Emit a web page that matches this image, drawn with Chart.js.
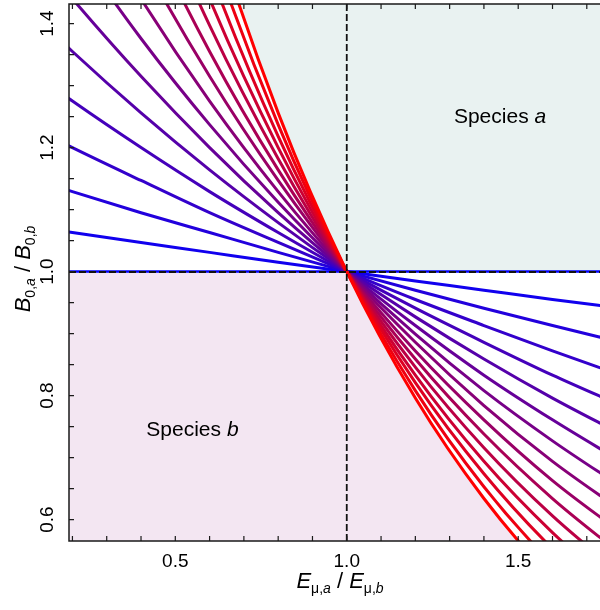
<!DOCTYPE html>
<html><head><meta charset="utf-8">
<script src="https://cdn.jsdelivr.net/npm/chart.js@4.4.0/dist/chart.umd.min.js"></script>
<style>html,body{margin:0;padding:0;background:#fff;}canvas{display:block;}</style>
</head><body>
<canvas id="c" width="600" height="610"></canvas>
<script>
// ---- data ----
const xValues = [0.1, 0.2, 0.4, 0.6, 0.8, 1.0, 1.2, 1.4, 1.6, 1.8];
const line00 = [1, 1, 1, 1, 1, 1, 1, 1, 1, 1];
const line01 = [1.071, 1.063, 1.047, 1.031, 1.015, 1, 0.985, 0.970, 0.955, 0.941];
const line02 = [1.147, 1.129, 1.095, 1.063, 1.031, 1, 0.970, 0.941, 0.913, 0.886];
const line03 = [1.228, 1.200, 1.147, 1.095, 1.047, 1, 0.955, 0.913, 0.872, 0.833];
const line04 = [1.315, 1.275, 1.200, 1.129, 1.063, 1, 0.941, 0.886, 0.833, 0.784];
const line05 = [1.408, 1.355, 1.256, 1.164, 1.079, 1, 0.927, 0.859, 0.796, 0.738];
const line06 = [1.507, 1.440, 1.315, 1.200, 1.095, 1, 0.913, 0.833, 0.761, 0.694];
const line07 = [1.614, 1.531, 1.376, 1.237, 1.112, 1, 0.899, 0.808, 0.727, 0.653];
const line08 = [1.728, 1.626, 1.440, 1.275, 1.129, 1, 0.886, 0.784, 0.694, 0.615];
const line09 = [1.851, 1.728, 1.507, 1.315, 1.147, 1, 0.872, 0.761, 0.663, 0.579];
const line10 = [1.982, 1.837, 1.578, 1.355, 1.164, 1, 0.859, 0.738, 0.634, 0.544];
const line11 = [2.122, 1.952, 1.651, 1.397, 1.182, 1, 0.846, 0.716, 0.606, 0.512];
const line12 = [2.272, 2.074, 1.728, 1.440, 1.200, 1, 0.833, 0.694, 0.579, 0.482];
const line13 = [2.433, 2.204, 1.809, 1.485, 1.218, 1, 0.821, 0.674, 0.553, 0.454];
const line14 = [2.605, 2.342, 1.893, 1.531, 1.237, 1, 0.808, 0.653, 0.528, 0.427];
const line15 = [2.790, 2.489, 1.982, 1.578, 1.256, 1, 0.796, 0.634, 0.505, 0.402];

const xTicks = [0.2,0.3,0.4,0.5,0.6,0.7,0.8,0.9,1.0,1.1,1.2,1.3,1.4,1.5,1.6,1.7];
const xTickLabels = ['0.5','1.0','1.5'];
const yTicks = [0.6,0.65,0.7,0.75,0.8,0.85,0.9,0.95,1.0,1.05,1.1,1.15,1.2,1.25,1.3,1.35,1.4];
const yTickLabels = ['0.6','0.8','1.0','1.2','1.4'];
const speciesNames = ['a','b'];
const thresholdX = 1.0;
const thresholdY = 1.0;

// ---- styling / layout ----
const FONT = '"Liberation Sans", Arial, Helvetica, sans-serif';
const colA = '#e9f2f1';
const colB = '#f3e6f2';
const lineSets = [line00,line01,line02,line03,line04,line05,line06,line07,line08,line09,line10,line11,line12,line13,line14,line15];
function lineColor(n){ const t = n/(lineSets.length-1); return `rgb(${Math.round(255*t)},0,${Math.round(255*(1-t))})`; }
const pts = arr => xValues.map((xv,i)=>({x:xv, y:arr[i]}));
const redBoundary = lineSets[lineSets.length-1];

const datasets = [];
datasets.push({data: pts(redBoundary), fill:'end', backgroundColor: colA, borderWidth:0, pointRadius:0, order:100, cubicInterpolationMode:'monotone'});
datasets.push({data: pts(redBoundary), fill:'start', backgroundColor: colB, borderWidth:0, pointRadius:0, order:100, cubicInterpolationMode:'monotone'});
datasets.push({data: pts(redBoundary), fill:{value: thresholdY}, backgroundColor:'#ffffff', borderWidth:0, pointRadius:0, order:99, cubicInterpolationMode:'monotone'});
lineSets.forEach((arr,n)=>datasets.push({data: pts(arr), borderColor: lineColor(n), borderWidth: n===0 ? 2.5 : 3, pointRadius:0, fill:false, order:50-n, clip:0, cubicInterpolationMode:'monotone', borderCapStyle:'butt'}));

function drawRich(ctx, parts, cx, by){
  let total = 0;
  parts.forEach(p=>{ ctx.font = `${p.i?'italic ':''}${p.s}px ${FONT}`; p.w = ctx.measureText(p.t).width; total += p.w; });
  let x = cx - total/2;
  parts.forEach(p=>{ ctx.font = `${p.i?'italic ':''}${p.s}px ${FONT}`; ctx.fillText(p.t, x, by + (p.dy||0)); x += p.w; });
}

const decor = {
  id:'decor',
  afterDatasetsDraw(chart){
    const {ctx, chartArea:a, scales:{x, y}} = chart;
    ctx.save();
    // threshold dashed lines
    ctx.save();
    ctx.beginPath(); ctx.rect(a.left, a.top, a.right-a.left, a.bottom-a.top); ctx.clip();
    ctx.strokeStyle = '#111111'; ctx.lineWidth = 1.8; ctx.setLineDash([7,3]);
    const tx = x.getPixelForValue(thresholdX), ty = y.getPixelForValue(thresholdY);
    ctx.beginPath(); ctx.moveTo(tx, a.top); ctx.lineTo(tx, a.bottom); ctx.stroke();
    ctx.lineWidth = 2;
    ctx.beginPath(); ctx.moveTo(a.left, ty + 0.5); ctx.lineTo(a.right, ty + 0.5); ctx.stroke();
    ctx.restore();
    // frame
    ctx.strokeStyle = '#1a1a1a'; ctx.lineWidth = 1.5;
    ctx.beginPath();
    ctx.moveTo(a.right+2, a.top); ctx.lineTo(a.left, a.top); ctx.lineTo(a.left, a.bottom); ctx.lineTo(a.right+2, a.bottom);
    ctx.stroke();
    // inward ticks
    ctx.lineWidth = 1.2;
    ctx.beginPath();
    xTicks.forEach(v=>{ const px = x.getPixelForValue(v); ctx.moveTo(px,a.bottom); ctx.lineTo(px,a.bottom-5); ctx.moveTo(px,a.top); ctx.lineTo(px,a.top+5); });
    yTicks.forEach(v=>{ const py = y.getPixelForValue(v); ctx.moveTo(a.left,py); ctx.lineTo(a.left+5,py); });
    ctx.stroke();
    // tick labels
    ctx.fillStyle = '#000';
    ctx.font = `19px ${FONT}`; ctx.textAlign = 'center'; ctx.textBaseline = 'alphabetic';
    xTickLabels.forEach(l=>{ ctx.fillText(l, x.getPixelForValue(parseFloat(l)), a.bottom + 26); });
    yTickLabels.forEach(l=>{
      ctx.save(); ctx.translate(a.left - 16, y.getPixelForValue(parseFloat(l))); ctx.rotate(-Math.PI/2);
      ctx.fillText(l, 0, 0); ctx.restore();
    });
    ctx.textAlign = 'left';
    // axis titles
    drawRich(ctx, [{t:'E',i:1,s:22},{t:'\u03bc,',s:14,dy:5},{t:'a',i:1,s:14,dy:5},{t:' / ',s:22},{t:'E',i:1,s:22},{t:'\u03bc,',s:14,dy:5},{t:'b',i:1,s:14,dy:5}], 340, a.bottom + 47);
    ctx.save(); ctx.translate(30, 269); ctx.rotate(-Math.PI/2);
    drawRich(ctx, [{t:'B',i:1,s:22},{t:'0,',s:14,dy:5},{t:'a',i:1,s:14,dy:5},{t:' / ',s:22},{t:'B',i:1,s:22},{t:'0,',s:14,dy:5},{t:'b',i:1,s:14,dy:5}], 0, 0);
    ctx.restore();
    // region labels
    drawRich(ctx, [{t:'Species ',s:21},{t:speciesNames[0],i:1,s:21}], x.getPixelForValue(1.447), y.getPixelForValue(1.24));
    drawRich(ctx, [{t:'Species ',s:21},{t:speciesNames[1],i:1,s:21}], x.getPixelForValue(0.550), y.getPixelForValue(0.735));
    ctx.restore();
  }
};

new Chart(document.getElementById('c'), {
  type:'line',
  data:{datasets},
  options:{
    responsive:false, animation:false, devicePixelRatio:1,
    layout:{padding:{left:69, top:4, right:0, bottom:69}},
    scales:{
      x:{type:'linear', min:0.19, max:1.7385, display:false},
      y:{type:'linear', min:0.5655, max:1.4316, display:false}
    },
    plugins:{legend:{display:false}, tooltip:{enabled:false}},
    elements:{point:{radius:0}}
  },
  plugins:[decor]
});
</script>
</body></html>
